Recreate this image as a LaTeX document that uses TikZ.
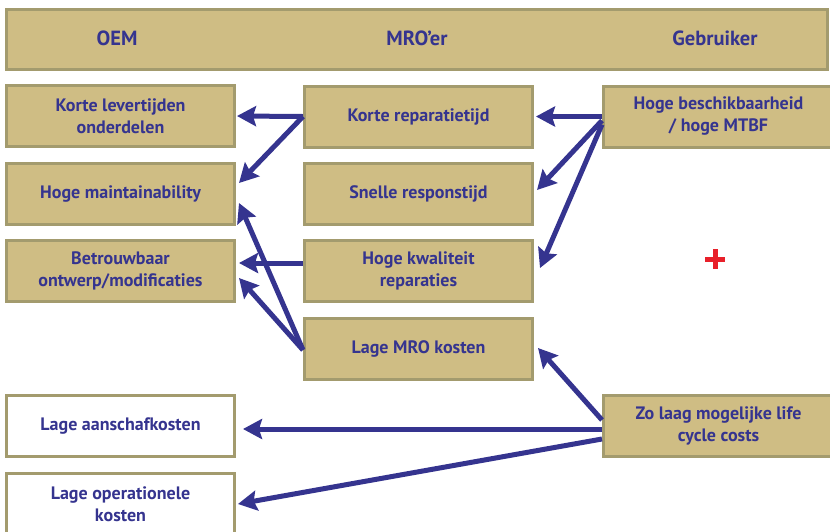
\documentclass[tikz,border=0pt]{standalone}
\usepackage{fontspec}
\setmainfont{PT Sans}
\usetikzlibrary{arrows.meta,calc}
\definecolor{tan}{HTML}{CFBD84}
\definecolor{tanedge}{HTML}{A39B6E}
\definecolor{navy}{HTML}{35348F}
\definecolor{plusred}{HTML}{E8202A}
\begin{document}
\begin{tikzpicture}[x=1pt,y=-1pt,
  box/.style={draw=tanedge, fill=tan, line width=3pt, minimum width=228pt, minimum height=61pt,
    inner sep=0pt, align=center, font=\fontsize{18}{22}\selectfont\bfseries, text=navy},
  wbox/.style={box, fill=white},
  hdrtext/.style={font=\fontsize{20.5}{24}\selectfont\bfseries, text=navy, inner sep=0pt, anchor=base},
  arr/.style={draw=navy, line width=5pt, -{Stealth[length=19pt,width=20pt,inset=3pt]}}]
\useasboundingbox (0,0) rectangle (830,531);
\clip (0,0) rectangle (830,531);

\node[box, minimum width=821pt, minimum height=60pt] (hdr) at (417,39.5) {};
\node[hdrtext] (oem) at (117,45.5) {OEM};
\node[hdrtext] (mro) at (417,45.5) {MRO’er};
\node[hdrtext] (geb) at (715,45.5) {Gebruiker};

\node[box] (l1) at (120.5,116) {Korte levertijden\\onderdelen};
\node[box] (l2) at (120.5,194) {Hoge maintainability};
\node[box] (l3) at (120.5,271) {Betrouwbaar\\ontwerp/modificaties};
\node[wbox] (l5) at (120.5,426) {Lage aanschafkosten};
\node[wbox] (l6) at (120.5,504) {Lage operationele\\kosten};

\node[box] (m1) at (418.5,116.5) {Korte reparatietijd};
\node[box] (m2) at (418.5,194) {Snelle responstijd};
\node[box] (m3) at (418.5,271) {Hoge kwaliteit\\reparaties};
\node[box] (m4) at (418.5,349) {Lage MRO kosten};

\node[box, minimum width=230pt] (r1) at (718.5,116.5) {Hoge beschikbaarheid\\/ hoge MTBF};
\node[box, minimum width=230pt] (r5) at (718.5,426) {Zo laag mogelijke life\\cycle costs};

\draw[arr] (m1.west) -- ($(l1.east)+(1,0)$);
\draw[arr] (m1.west) -- ($(l2.east)+(3,-11)$);
\draw[arr] ($(m3.west)+(0,-8)$) -- ($(l3.east)+(3,-8)$);
\draw[arr] ($(m4.west)+(0,1)$) -- ($(l2.east)+(3,9)$);
\draw[arr] ($(m4.west)+(0,1)$) -- ($(l3.east)+(3,7)$);

\draw[arr] (r1.west) -- ($(m1.east)+(2,0)$);
\draw[arr] ($(r1.west)+(0,4)$) -- ($(m2.east)+(3,-4)$);
\draw[arr] ($(r1.west)+(0,8)$) -- ($(m3.east)+(6,-3)$);

\draw[arr] ($(r5.west)+(0,-6)$) -- ($(m4.east)+(4,-1)$);
\draw[arr] ($(r5.west)+(0,3)$) -- ($(l5.east)+(7,3)$);
\draw[arr] ($(r5.west)+(0,13)$) -- ($(l6.east)+(2,0)$);

\draw[plusred, line width=5pt] (705,259) -- (725,259) (715,249) -- (715,269);
\end{tikzpicture}
\end{document}
